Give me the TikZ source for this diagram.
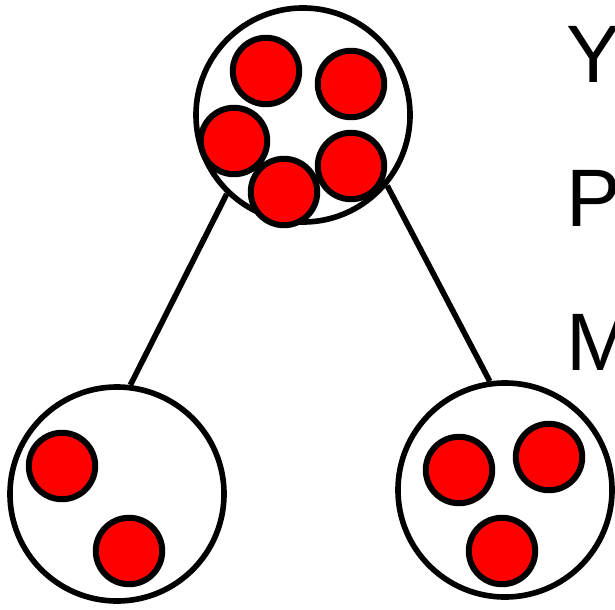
\documentclass[tikz,border=0pt]{standalone}
\usepackage{fontspec}
\setmainfont{Liberation Sans}
\usetikzlibrary{positioning}

\begin{document}
\begin{tikzpicture}[
        x=0.025cm, y=-0.025cm,
        groupbox/.style={circle, draw=black, line width=4pt, fill=white, inner sep=0pt, minimum size=5.35cm},
        ball/.style={circle, draw=black, line width=4.3pt, fill=red, inner sep=0pt, minimum size=1.66cm},
        link/.style={line width=4pt, black},
        letter/.style={anchor=base west, inner sep=0pt, font=\fontsize{58}{60}\selectfont},
    ]
        \clip (0,0) rectangle (615,609);

        % Groups
        \node[groupbox] (parent) at (303,115) {};
        \node[groupbox] (childL) at (117,494) {};
        \node[groupbox] (childR) at (505,490) {};

        % Links
        \draw[link] (parent.226) -- (childL.83);
        \draw[link] (parent.320) -- (childR.98);

        % Balls in the parent
        \node[ball] (pa) at (266,71) {};
        \node[ball] (pb) at (351,84) {};
        \node[ball] (pc) at (234,141) {};
        \node[ball] (pd) at (351,166) {};
        \node[ball] (pe) at (284,192) {};

        % Balls in the children
        \node[ball] (la) at (62,466) {};
        \node[ball] (lb) at (129,551) {};
        \node[ball] (ra) at (459,470) {};
        \node[ball] (rb) at (549,457) {};
        \node[ball] (rc) at (502,551) {};

        % Labels (cut at the right edge, as in the original)
        \node[letter] (lblY) at (566,83) {Y};
        \node[letter] (lblP) at (566,227) {P};
        \node[letter] (lblM) at (566,370) {M};
    \end{tikzpicture}
\end{document}
